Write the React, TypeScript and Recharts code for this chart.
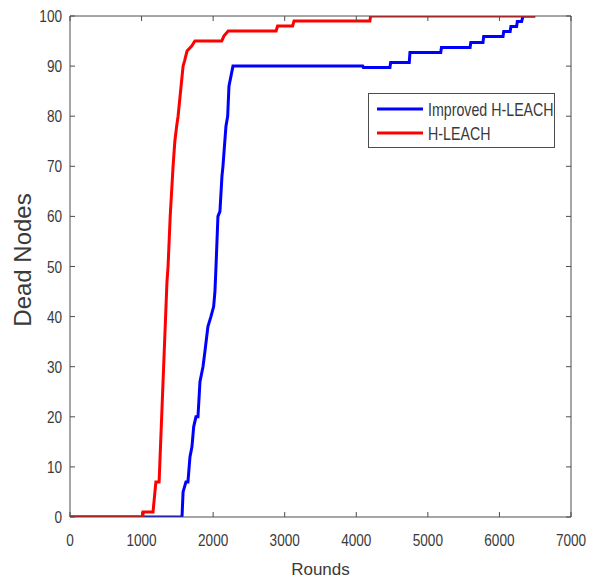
import React from "react";
import { LineChart, Line, XAxis, YAxis, Legend } from "recharts";

// rounds / dead nodes (corners of the visible steps)
const hleachRounds = [0, 1020, 1020, 1160, 1200, 1245, 1300, 1355, 1370, 1400, 1440, 1465, 1490, 1510, 1580, 1600, 1635, 1700, 1745, 2120, 2150, 2210, 2880, 2900, 3110, 3130, 4190, 4200, 6500];
const hleachDead = [0, 0, 1, 1, 7, 7, 27, 47, 50, 60, 70, 75, 78, 80, 90, 91, 93, 94, 95, 95, 96, 97, 97, 98, 98, 99, 99, 100, 100];

const improvedRounds = [0, 1565, 1580, 1620, 1648, 1676, 1704, 1728, 1760, 1788, 1816, 1858, 1885, 1927, 1969, 2007, 2025, 2040, 2067, 2095, 2123, 2137, 2179, 2203, 2221, 2277, 4090, 4100, 4470, 4480, 4740, 4750, 5180, 5190, 5590, 5600, 5770, 5780, 6050, 6060, 6150, 6160, 6240, 6250, 6310, 6330, 6500];
const improvedDead = [0, 0, 5, 7, 7, 12, 14, 18, 20, 20, 27, 30, 33, 38, 40, 42, 45, 50, 60, 61, 68, 70, 78, 80, 86, 90, 90, 89.7, 89.7, 90.7, 90.7, 92.7, 92.7, 93.7, 93.7, 94.7, 94.7, 95.9, 95.9, 96.9, 96.9, 97.9, 97.9, 98.9, 98.9, 100, 100];

const xTicks = [0, 1000, 2000, 3000, 4000, 5000, 6000, 7000];
const yTicks = [0, 10, 20, 30, 40, 50, 60, 70, 80, 90, 100];

const seriesNames = ["Improved H-LEACH", "H-LEACH"];
const seriesColors = ["#0000ff", "#ff0000"];

const zip = (xs: number[], ys: number[]) => xs.map((x, i) => ({ x, y: ys[i] }));
const improvedData = zip(improvedRounds, improvedDead);
const hleachData = zip(hleachRounds, hleachDead);

const AXIS = "#4d4d4d";
const TEXT = "#3a3a3a";
const FONT = "'Liberation Sans', Arial, sans-serif";
const TICK_LEN = 5;

// matlab-ish narrow lettering
function NarrowText({ x, y, anchor, size, sx, children }: any) {
  return (
    <text
      transform={`translate(${x},${y}) scale(${sx},1)`}
      textAnchor={anchor}
      fontSize={size}
      fontFamily={FONT}
      fill={TEXT}
    >
      {children}
    </text>
  );
}

function BottomTick(props: any) {
  const { x, y, payload } = props;
  return (
    <g>
      <line x1={x} x2={x} y1={y} y2={y - TICK_LEN} stroke={AXIS} />
      <NarrowText x={x} y={y + 29} anchor="middle" size={17} sx={0.8}>
        {payload.value}
      </NarrowText>
    </g>
  );
}

function LeftTick(props: any) {
  const { x, y, payload } = props;
  return (
    <g>
      <line x1={x} x2={x + TICK_LEN} y1={y} y2={y} stroke={AXIS} />
      <NarrowText x={x - 8} y={y + 6} anchor="end" size={17} sx={0.8}>
        {payload.value}
      </NarrowText>
    </g>
  );
}

function TopTick(props: any) {
  const { x, y } = props;
  return <line x1={x} x2={x} y1={y} y2={y + TICK_LEN} stroke={AXIS} />;
}

function RightTick(props: any) {
  const { x, y } = props;
  return <line x1={x} x2={x - TICK_LEN} y1={y} y2={y} stroke={AXIS} />;
}

function DeadNodesLabel(props: any) {
  const { viewBox } = props;
  const cx = viewBox.x + 22;
  const cy = 260;
  return (
    <text
      transform={`translate(${cx},${cy}) rotate(-90)`}
      textAnchor="middle"
      dominantBaseline="central"
      fontSize={24}
      fontFamily={FONT}
      fill={TEXT}
    >
      Dead Nodes
    </text>
  );
}

function LegendBox() {
  return (
    <svg width={187} height={55} style={{ display: "block" }}>
      <rect x={0.5} y={0.5} width={186} height={54} fill="#fff" stroke={AXIS} />
      {seriesNames.map((name, i) => {
        const cy = 16 + i * 24;
        return (
          <g key={name}>
            <line x1={9} x2={55} y1={cy} y2={cy} stroke={seriesColors[i]} strokeWidth={3} />
            <NarrowText x={60} y={cy + 6.5} anchor="start" size={18} sx={0.79}>
              {name}
            </NarrowText>
          </g>
        );
      })}
    </svg>
  );
}

export default function App() {
  return (
    <div style={{ position: "absolute", left: 0, top: 0, background: "#fff" }}>
      <LineChart width={597} height={579} margin={{ top: 15, right: 25, bottom: 0, left: 0 }}>
        <XAxis
          dataKey="x"
          type="number"
          domain={[0, 7000]}
          ticks={xTicks}
          height={62}
          tickSize={0}
          tickMargin={0}
          tickLine={false}
          stroke={AXIS}
          tick={<BottomTick />}
          interval={0}
          allowDataOverflow
          label={{
            value: "Rounds",
            position: "insideBottom",
            offset: 4,
            fontSize: 17,
            fontFamily: FONT,
            fill: TEXT,
          }}
        />
        <XAxis
          xAxisId="top"
          orientation="top"
          dataKey="x"
          type="number"
          domain={[0, 7000]}
          ticks={xTicks}
          height={1}
          tickSize={0}
          tickMargin={0}
          tickLine={false}
          stroke={AXIS}
          tick={<TopTick />}
          interval={0}
          allowDataOverflow
        />
        <YAxis
          type="number"
          domain={[0, 100]}
          ticks={yTicks}
          width={70}
          tickSize={0}
          tickMargin={0}
          tickLine={false}
          stroke={AXIS}
          tick={<LeftTick />}
          interval={0}
          allowDataOverflow
          label={<DeadNodesLabel />}
        />
        <YAxis
          yAxisId="right"
          orientation="right"
          type="number"
          domain={[0, 100]}
          ticks={yTicks}
          width={1}
          tickSize={0}
          tickMargin={0}
          tickLine={false}
          stroke={AXIS}
          tick={<RightTick />}
          interval={0}
          allowDataOverflow
        />
        <Legend
          layout="vertical"
          align="center"
          verticalAlign="middle"
          content={<LegendBox />}
          wrapperStyle={{ left: 368, top: 93, width: 187, height: 55 }}
        />
        {/* invisible copy so the frame axes (top/right) get drawn */}
        <Line
          data={improvedData}
          dataKey="y"
          xAxisId="top"
          yAxisId="right"
          stroke="none"
          strokeWidth={0}
          dot={false}
          activeDot={false}
          legendType="none"
          isAnimationActive={false}
        />
        <Line
          data={improvedData}
          dataKey="y"
          name={seriesNames[0]}
          type="linear"
          stroke={seriesColors[0]}
          strokeWidth={3}
          dot={false}
          activeDot={false}
          isAnimationActive={false}
        />
        <Line
          data={hleachData}
          dataKey="y"
          name={seriesNames[1]}
          type="linear"
          stroke={seriesColors[1]}
          strokeWidth={3}
          dot={false}
          activeDot={false}
          isAnimationActive={false}
        />
      </LineChart>
    </div>
  );
}
